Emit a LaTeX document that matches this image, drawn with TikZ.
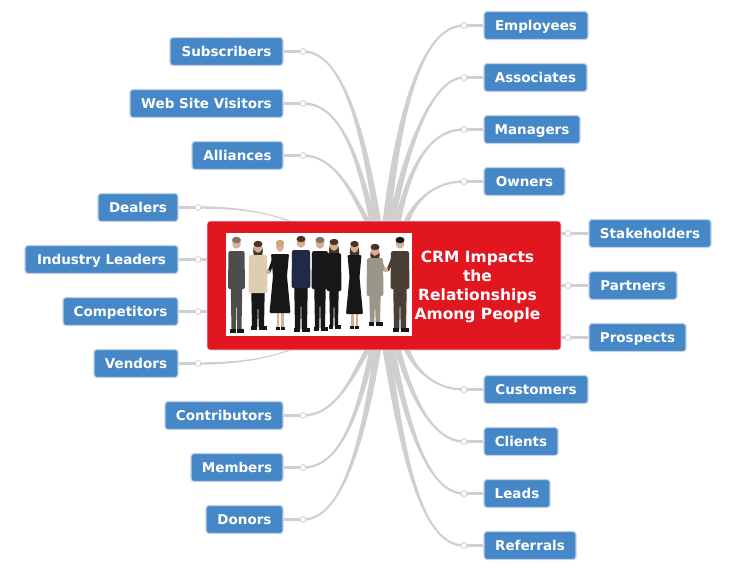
\documentclass[tikz,border=0pt]{standalone}
\usepackage{fontspec}
\setmainfont{DejaVu Sans}
\usetikzlibrary{calc,backgrounds}
\definecolor{boxblue}{HTML}{4688C7}
\definecolor{boxedge}{HTML}{C3D0E6}
\definecolor{spokegray}{HTML}{CFCFCF}
\definecolor{hubred}{HTML}{E2161F}
\definecolor{skinA}{HTML}{D8AE90}
\definecolor{suitgray}{HTML}{4F4D4B}
\definecolor{suitnavy}{HTML}{1F2A44}
\definecolor{suitblack}{HTML}{17171A}
\definecolor{suitbrown}{HTML}{4A3F35}
\definecolor{beige}{HTML}{DDCDB2}
\definecolor{greytan}{HTML}{9A968A}
\definecolor{hairbrown}{HTML}{4A3325}
\definecolor{hairblond}{HTML}{C9A970}
\definecolor{hairgrey}{HTML}{7E7468}
\tikzset{
  boxnode/.style={draw=boxedge,line width=1.2pt,fill=boxblue,rounded corners=3pt,text=white,
    font=\bfseries\fontsize{13.5}{15}\selectfont,minimum height=28pt,inner sep=0pt,anchor=center,
    text height=10pt,text depth=1pt},
  hubnode/.style={draw=boxedge!60!white,line width=.8pt,fill=hubred,rounded corners=3pt,minimum width=354pt,minimum height=129pt,inner sep=0pt},
  hubtext/.style={text=white,font=\bfseries\fontsize{15.5}{19}\selectfont,align=center,inner sep=0pt},
  photonode/.style={fill=white,minimum width=186pt,minimum height=103pt,inner sep=0pt},
  dotnode/.style={circle,draw=spokegray,fill=white,line width=.8pt,minimum size=6pt,inner sep=0pt},
  linkline/.style={draw=spokegray,line width=2.4pt},
  spokefill/.style={fill=spokegray},
  armline/.style={line width=3pt,line cap=round}
}
% dot, c1, c2, end, half width, sign
\newcommand\taper[6]{%
  \fill[spokefill] ($(#1)+(0,-1.2)$) .. controls ($#2+(0,-1.2)$) and ($#3+({.7*#5*#6},0)$) .. ($(#4)+({#5*#6},0)$)
   -- ($(#4)+({-#5*#6},0)$) .. controls ($#3+({-.7*#5*#6},0)$) and ($#2+(0,1.2)$) .. ($(#1)+(0,1.2)$) -- cycle;}
% x, head y, feet y, hair, top, legs, half shoulder
\newcommand\trouserperson[7]{%
  \fill[#6] (#1-#7+2,{#2+30}) -- (#1+#7-2,{#2+30}) -- (#1+#7-3,#3-3) -- (#1+.7,#3-3) -- (#1,{#2+52}) -- (#1-.7,#3-3) -- (#1-#7+3,#3-3) -- cycle;
  \fill[suitblack] (#1-#7+1.5,#3-4) rectangle (#1-.7,#3);
  \fill[suitblack] (#1+.7,#3-4) rectangle (#1+#7-.5,#3);
  \fill[#5,rounded corners=2pt] (#1-#7,{#2+8}) -- (#1+#7,{#2+8}) -- (#1+#7+.5,{#2+46}) -- (#1-#7-.5,{#2+46}) -- cycle;
  \fill[skinA] (#1,#2) ellipse (4.2pt and 5.8pt);
  \fill[#4] (#1,{#2-3}) ellipse (4.5pt and 3.2pt);
}
% x, head y, feet y, hair, top, half shoulder
\newcommand\dressperson[6]{%
  \fill[skinA] (#1-3.5,{#2+55}) rectangle (#1-1,#3-3);
  \fill[skinA] (#1+1,{#2+55}) rectangle (#1+3.5,#3-3);
  \fill[suitblack] (#1-4.5,#3-3) rectangle (#1-.5,#3);
  \fill[suitblack] (#1+.5,#3-3) rectangle (#1+4.5,#3);
  \fill[#5,rounded corners=1pt] (#1-#6,{#2+8}) -- (#1+#6,{#2+8}) -- (#1+#6-2,{#2+30}) -- (#1+#6+1.5,{#2+67}) -- (#1-#6-1.5,{#2+67}) -- (#1-#6+2,{#2+30}) -- cycle;
  \fill[skinA] (#1,#2) ellipse (3.8pt and 5.8pt);
  \fill[#4] (#1,{#2-3}) ellipse (4.2pt and 3.2pt);
}
\begin{document}
\begin{tikzpicture}[x=1pt,y=-1pt]
\useasboundingbox (0,0) rectangle (731,570);
% hub
\node[hubnode] (hub) at (384,285.5) {};
\node[photonode] (photo) at (319,284.5) {};
\node[hubtext] (title) at (477.5,286.5) {CRM Impacts\\the\\Relationships\\Among People};
% people: long hair behind
\fill[hairbrown] (258,251) ellipse (4.8pt and 8pt);
\fill[hairbrown] (334,251) ellipse (5pt and 10pt);
\fill[hairbrown] (354.5,253) ellipse (4.8pt and 10pt);
\fill[hairbrown] (375,255) ellipse (4.6pt and 8pt);
% people
\trouserperson{236.5}{243}{333}{hairgrey}{suitgray}{suitgray}{8}
\trouserperson{258}{247}{330}{hairbrown}{beige}{suitblack}{9}
\dressperson{280}{246}{330}{hairblond}{suitblack}{9}
\trouserperson{301}{242}{332}{hairbrown}{suitnavy}{suitblack}{9}
\trouserperson{334}{245}{329}{hairbrown}{suitblack}{suitblack}{7}
\trouserperson{320}{243}{331}{hairgrey}{suitblack}{suitblack}{8}
\dressperson{354.5}{247}{329}{hairbrown}{suitblack}{7}
\trouserperson{375}{250}{326}{hairbrown}{greytan}{greytan}{8}
\trouserperson{400}{243}{332}{suitblack}{suitbrown}{suitbrown}{9}
% handshakes
\draw[armline,beige] (263,260) -- (267,272);
\draw[armline,suitblack] (274,258) -- (269,272);
\fill[skinA] (268,272) circle (2.3pt);
\draw[armline,greytan] (380,259) -- (384,270);
\draw[armline,suitbrown] (394,255) -- (388,270);
\fill[skinA] (386,270) circle (2.3pt);
% left boxes
\node[boxnode,minimum width=113pt] (sub) at (226.5,51.5) {Subscribers};
\node[boxnode,minimum width=153pt] (web) at (206.5,103.5) {Web Site Visitors};
\node[boxnode,minimum width=91pt] (all) at (237.5,155.5) {Alliances};
\node[boxnode,minimum width=80pt] (dea) at (138,207.5) {Dealers};
\node[boxnode,minimum width=153pt] (ind) at (101.5,259.5) {Industry Leaders};
\node[boxnode,minimum width=115pt] (com) at (120.5,311.5) {Competitors};
\node[boxnode,minimum width=84pt] (ven) at (136,363.5) {Vendors};
\node[boxnode,minimum width=118pt] (con) at (224,415.5) {Contributors};
\node[boxnode,minimum width=92pt] (mem) at (237,467.5) {Members};
\node[boxnode,minimum width=77pt] (don) at (244.5,519.5) {Donors};
% right boxes
\node[boxnode,minimum width=104pt] (emp) at (536,25.5) {Employees};
\node[boxnode,minimum width=103pt] (ass) at (535.5,77.5) {Associates};
\node[boxnode,minimum width=96pt] (man) at (532,129.5) {Managers};
\node[boxnode,minimum width=81pt] (own) at (524.5,181.5) {Owners};
\node[boxnode,minimum width=122pt] (sta) at (650,233.5) {Stakeholders};
\node[boxnode,minimum width=88pt] (par) at (633,285.5) {Partners};
\node[boxnode,minimum width=97pt] (pro) at (637.5,337.5) {Prospects};
\node[boxnode,minimum width=104pt] (cus) at (536,389.5) {Customers};
\node[boxnode,minimum width=74pt] (cli) at (521,441.5) {Clients};
\node[boxnode,minimum width=66pt] (lea) at (517,493.5) {Leads};
\node[boxnode,minimum width=92pt] (ref) at (530,545.5) {Referrals};
% dots
\foreach \n/\x/\y in {sub/303/51.5,web/303/103.5,all/303/155.5,dea/198/207.5,ind/198/259.5,com/198/311.5,ven/198/363.5,con/303/415.5,mem/303/467.5,don/303/519.5,emp/464/25.5,ass/464/77.5,man/464/129.5,own/464/181.5,sta/568/233.5,par/568/285.5,pro/568/337.5,cus/464/389.5,cli/464/441.5,lea/464/493.5,ref/464/545.5}
  \node[dotnode] (d\n) at (\x,\y) {};
% hub attachment points
\foreach \n/\x in {sub/378,web/373,all/368,dea/292,emp/387,ass/392,man/398,own/407}
  \coordinate (e\n) at ($(hub.north west)+(\x-207,1)$);
\foreach \n/\x in {con/368,mem/373,don/378,ven/292,cus/407,cli/398,lea/392,ref/387}
  \coordinate (e\n) at ($(hub.south west)+(\x-207,-1)$);
\begin{scope}[on background layer]
\foreach \n in {sub,web,all,dea,ind,com,ven,con,mem,don}
  \draw[linkline] (\n.east) -- (d\n);
\foreach \n in {emp,ass,man,own,sta,par,pro,cus,cli,lea,ref}
  \draw[linkline] (\n.west) -- (d\n);
\draw[linkline] (dind) -- (hub.west |- dind);
\draw[linkline] (dcom) -- (hub.west |- dcom);
\draw[linkline] (dsta) -- (hub.east |- dsta);
\draw[linkline] (dpar) -- (hub.east |- dpar);
\draw[linkline] (dpro) -- (hub.east |- dpro);
\taper{dsub}{(340,51.5)}{(362,120)}{esub}{3.5}{1}
\taper{dweb}{(340,103.5)}{(358,155)}{eweb}{3.2}{1}
\taper{dall}{(335,155.5)}{(352,193)}{eall}{3}{1}
\taper{ddea}{(240,207.5)}{(268,213)}{edea}{2}{1}
\taper{demp}{(425,25.5)}{(400,100)}{eemp}{4}{-1}
\taper{dass}{(437,77.5)}{(410,130)}{eass}{3.5}{-1}
\taper{dman}{(430,129.5)}{(410,165)}{eman}{3.2}{-1}
\taper{down}{(435,181.5)}{(415,200)}{eown}{3}{-1}
\taper{dcon}{(335,415.5)}{(352,378)}{econ}{3}{-1}
\taper{dmem}{(340,467.5)}{(358,415)}{emem}{3.2}{-1}
\taper{ddon}{(340,519.5)}{(362,450)}{edon}{3.5}{-1}
\taper{dven}{(240,363.5)}{(268,358)}{even}{2}{-1}
\taper{dcus}{(435,389.5)}{(415,370)}{ecus}{3}{1}
\taper{dcli}{(434,441.5)}{(412,400)}{ecli}{3.2}{1}
\taper{dlea}{(432,493.5)}{(410,440)}{elea}{3.5}{1}
\taper{dref}{(420,545.5)}{(402,450)}{eref}{4}{1}
\end{scope}
\end{tikzpicture}
\end{document}
